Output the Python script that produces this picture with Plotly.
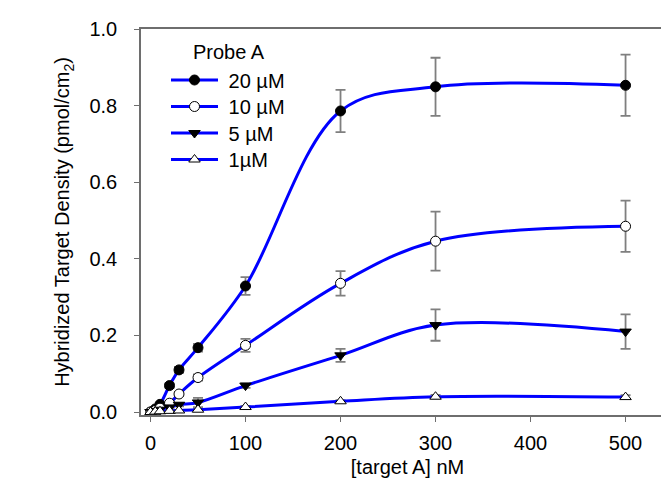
import plotly.graph_objects as go

# concentrations of target A (nM)
target_nM = [0, 5, 10, 20, 30, 50, 100, 200, 300, 500]

# hybridized target density (pmol/cm2) and error bars per probe concentration
probe_20uM = [0.0, 0.008, 0.020, 0.069, 0.110, 0.168, 0.329, 0.786, 0.849, 0.853]
err_20uM = [0.002, 0.003, 0.004, 0.006, 0.008, 0.010, 0.023, 0.055, 0.076, 0.080]

probe_10uM = [0.0, 0.004, 0.010, 0.023, 0.047, 0.090, 0.174, 0.336, 0.446, 0.485]
err_10uM = [0.002, 0.002, 0.003, 0.004, 0.005, 0.008, 0.017, 0.032, 0.077, 0.067]

probe_5uM = [0.0, 0.003, 0.006, 0.012, 0.019, 0.025, 0.069, 0.148, 0.227, 0.210]
err_5uM = [0.001, 0.002, 0.002, 0.003, 0.004, 0.012, 0.006, 0.017, 0.041, 0.045]

probe_1uM = [0.0, 0.001, 0.002, 0.003, 0.004, 0.006, 0.013, 0.028, 0.040, 0.039]
err_1uM = [0.001, 0.001, 0.001, 0.001, 0.001, 0.002, 0.003, 0.003, 0.005, 0.005]

legend_title = "Probe A"
series_names = ["20 µM", "10 µM", "5 µM", "1µM"]
series_vals = [probe_20uM, probe_10uM, probe_5uM, probe_1uM]
series_errs = [err_20uM, err_10uM, err_5uM, err_1uM]
symbols = ["circle", "circle", "triangle-down", "triangle-up"]
fills = ["black", "white", "black", "white"]

FONT = "Arial, Liberation Sans, sans-serif"
FS = 20
AX = "#6e6e6e"
W, H = 669, 485
L, R, T, B = 133, 3, 21, 78
pw = W - L - R
ph = H - T - B

# legend row centres (px from top) and line-sample start (px from left)
row_px = [72, 98.5, 125, 151.5]
legend_left_px = 158

fig = go.Figure()
layout_legends = {}
for i, (name, vals, errs, sym, fill) in enumerate(
        zip(series_names, series_vals, series_errs, symbols, fills)):
    key = "legend" if i == 0 else f"legend{i + 1}"
    fig.add_trace(go.Scatter(
        x=target_nM, y=vals, name="\u00a0" + name, mode="lines+markers",
        legend=key,
        line=dict(color="#0000ff", width=3, shape="spline", smoothing=1.0),
        marker=dict(symbol=sym, size=10, color=fill, line=dict(color="black", width=1)),
        error_y=dict(type="data", array=errs, visible=True, color="#7f7f7f",
                     thickness=1.8, width=5),
    ))
    h = FS * 1.3 + 3
    layout_legends[key] = dict(
        x=(legend_left_px - L) / pw, y=1 - (row_px[i] - 5 - h / 2 - T) / ph,
        xref="paper", yref="paper", xanchor="left", yanchor="top",
        bgcolor="rgba(0,0,0,0)", font=dict(size=FS, family=FONT, color="black"),
        itemwidth=47,
    )

fig.update_layout(
    width=W, height=H,
    margin=dict(l=L, r=R, t=T, b=B, autoexpand=False),
    paper_bgcolor="white", plot_bgcolor="white",
    font=dict(family=FONT, size=FS, color="black"),
    showlegend=True,
    annotations=[dict(text=legend_title, xref="paper", yref="paper",
                      x=(183 - L) / pw, y=1 - (44 - T) / ph,
                      xanchor="left", yanchor="middle", showarrow=False,
                      font=dict(size=FS, family=FONT, color="black"))],
    **layout_legends,
)

fig.update_xaxes(
    range=[-10, 551], tickvals=[0, 100, 200, 300, 400, 500],
    showline=True, mirror=True, linecolor=AX, linewidth=1.6,
    ticks="outside", ticklen=5, tickcolor=AX, tickwidth=1.3,
    showgrid=False, zeroline=False, ticklabelstandoff=4, automargin=False,
    title=dict(text="[target A] nM", standoff=7, font=dict(size=FS, family=FONT)),
    tickfont=dict(size=FS, family=FONT),
)
fig.update_yaxes(
    range=[-0.0078, 1.0], tickvals=[0, 0.2, 0.4, 0.6, 0.8, 1.0], tickformat=".1f",
    showline=True, mirror=True, linecolor=AX, linewidth=1.6,
    ticks="outside", ticklen=5, tickcolor=AX, tickwidth=1.3,
    showgrid=False, zeroline=False, ticklabelstandoff=13, automargin=False,
    title=dict(text="Hybridized Target Density (pmol/cm<sub>2</sub>)", standoff=14,
               font=dict(size=FS, family=FONT)),
    tickfont=dict(size=FS, family=FONT),
)

fig.write_html("out.html")
